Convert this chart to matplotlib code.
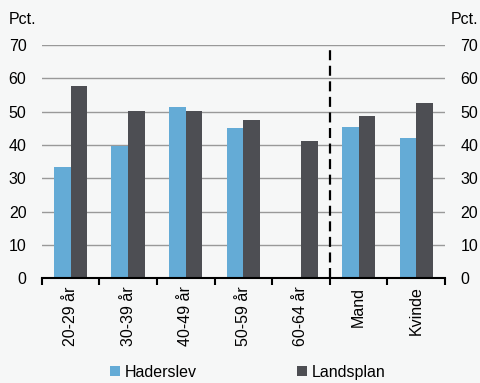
import numpy as np
import matplotlib
matplotlib.use("Agg")
import matplotlib.pyplot as plt

plt.rcParams["font.family"] = ["Liberation Sans", "DejaVu Sans"]

categories = ["20-29 år", "30-39 år", "40-49 år", "50-59 år", "60-64 år", "Mand", "Kvinde"]
haderslev = [33.3, 39.6, 51.3, 45.2, np.nan, 45.3, 42.2]
landsplan = [57.8, 50.3, 50.2, 47.6, 41.2, 48.6, 52.5]
yticks = [0, 10, 20, 30, 40, 50, 60, 70]

BG = "#f6f7f7"
BLUE = "#64abd6"
DARK = "#4d4e53"
FS = 11.5

fig = plt.figure(figsize=(4.81, 3.83), dpi=100, facecolor=BG)
ax = fig.add_axes([0.0867, 0.2734, 0.8385, 0.609], facecolor=BG)

x = np.arange(len(categories))
wd = 0.29
ax.bar(x - wd / 2, haderslev, wd, color=BLUE, label="Haderslev", zorder=3)
ax.bar(x + wd / 2, landsplan, wd, color=DARK, label="Landsplan", zorder=3)

ax.set_xlim(-0.5, len(categories) - 0.5)
ax.set_ylim(0, 70)
ax.set_yticks(yticks)
ax.yaxis.grid(True, color="#999999", lw=1.0, zorder=0)
ax.set_axisbelow(True)
ax.tick_params(axis="y", length=0, labelsize=FS, pad=11, labelright=True, right=False)
for s in ("top", "left", "right"):
    ax.spines[s].set_visible(False)
ax.spines["bottom"].set_color("black")
ax.spines["bottom"].set_linewidth(1.5)
ax.spines["bottom"].set_zorder(4)

# ticks between groups, labels at group centres
ax.set_xticks(np.arange(-0.5, len(categories), 1.0))
ax.set_xticklabels([])
ax.tick_params(axis="x", which="major", length=5, width=1.5, color="black", direction="out")
ax.set_xticks(x, minor=True)
ax.set_xticklabels(categories, minor=True, rotation=90, fontsize=FS)
ax.tick_params(axis="x", which="minor", length=0, pad=6)

ax.vlines(4.5, 0, 70, colors="black", linestyles=(0, (4.5, 2.5)), lw=1.6, zorder=4)

fig.text(9 / 481, 1 - 19 / 383, "Pct.", fontsize=FS, va="center", ha="left")
fig.text(478 / 481, 1 - 19 / 383, "Pct.", fontsize=FS, va="center", ha="right")

fig.legend(loc="center", bbox_to_anchor=(0.515, 0.028), ncol=2, frameon=False, fontsize=FS,
           handlelength=0.6, handleheight=0.6, handletextpad=0.3, columnspacing=6.3)

fig.savefig("out.png", dpi=100, facecolor=BG)
